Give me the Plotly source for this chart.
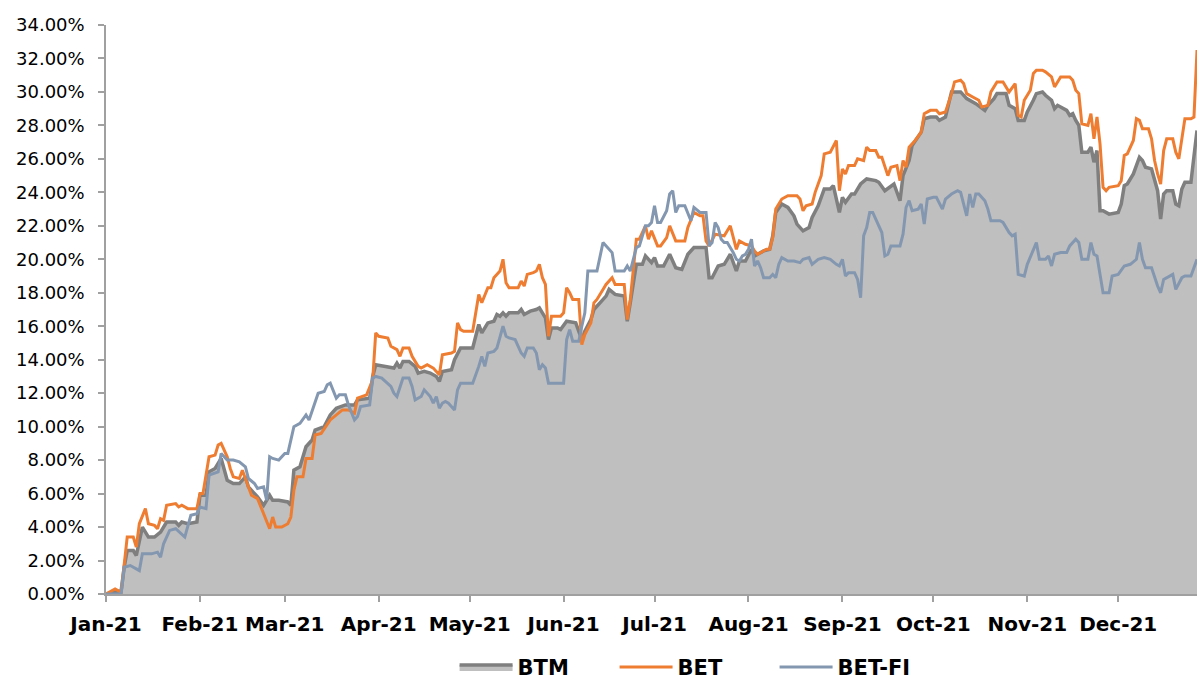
import pandas as pd
import plotly.graph_objects as go

START = pd.Timestamp("2021-01-01")

# ---- data: day offset from 1 Jan 2021, cumulative return in % ----
btm_day = [0, 5, 6, 7, 9, 10, 12, 14, 16, 18, 20, 23, 24, 25, 27, 30, 31, 33, 34, 36, 38, 40, 42, 44, 46, 47, 50, 52, 54, 55, 57, 60, 61, 62, 64, 66, 68, 69, 72, 74, 76, 79, 82, 83, 87, 88, 89, 93, 95, 96, 97, 98, 100, 102, 103, 105, 107, 109, 110, 111, 114, 115, 117, 121, 122, 123, 124, 126, 128, 129, 130, 131, 132, 133, 136, 137, 138, 140, 142, 143, 144, 145, 146, 147, 149, 150, 152, 154, 155, 157, 158, 160, 161, 163, 165, 166, 168, 171, 172, 173, 175, 177, 178, 180, 181, 182, 184, 186, 188, 190, 192, 194, 196, 198, 199, 200, 202, 204, 206, 208, 209, 211, 213, 214, 217, 219, 220, 221, 223, 225, 227, 228, 230, 231, 232, 233, 235, 237, 239, 240, 242, 243, 244, 246, 247, 249, 251, 254, 255, 257, 259, 260, 262, 263, 265, 266, 269, 270, 272, 274, 275, 277, 279, 282, 284, 285, 287, 290, 291, 293, 294, 297, 298, 300, 301, 303, 304, 306, 307, 309, 310, 312, 313, 314, 315, 317, 318, 319, 320, 321, 322, 324, 325, 326, 327, 328, 329, 331, 334, 335, 336, 337, 339, 341, 342, 343, 345, 346, 347, 348, 349, 350, 352, 353, 354, 355, 356, 358, 359, 360]
btm_val = [0.0, 0.2, 1.6, 2.6, 2.6, 2.3, 4.0, 3.4, 3.4, 3.7, 4.3, 4.3, 4.1, 4.3, 4.2, 4.3, 5.9, 5.9, 7.3, 7.5, 8.1, 6.8, 6.6, 6.6, 7.0, 6.4, 5.8, 5.3, 5.9, 5.6, 5.6, 5.5, 5.3, 7.4, 7.6, 8.8, 9.2, 9.8, 10.0, 10.7, 11.1, 11.3, 11.3, 11.6, 11.7, 13.0, 13.7, 13.6, 13.5, 13.8, 13.5, 13.9, 13.9, 13.6, 13.2, 13.3, 13.2, 13.0, 12.7, 13.3, 13.4, 14.0, 14.7, 14.7, 15.4, 16.1, 15.6, 16.2, 16.3, 16.7, 16.6, 16.8, 16.6, 16.8, 16.8, 17.0, 16.7, 16.9, 17.0, 17.1, 16.8, 16.5, 15.2, 15.9, 15.9, 15.8, 16.3, 16.2, 16.2, 15.2, 15.7, 16.4, 17.0, 17.4, 17.8, 18.2, 17.9, 17.8, 16.3, 17.4, 19.7, 19.7, 20.2, 19.8, 20.1, 19.6, 19.6, 20.3, 19.5, 19.4, 20.3, 20.7, 20.7, 20.7, 18.9, 18.9, 19.6, 19.7, 20.3, 19.3, 19.9, 19.9, 20.6, 20.2, 20.5, 20.6, 21.4, 22.8, 23.3, 23.1, 22.6, 22.1, 21.7, 21.8, 21.9, 22.5, 23.2, 24.2, 24.2, 24.4, 22.8, 23.7, 23.4, 23.9, 23.9, 24.5, 24.8, 24.7, 24.6, 24.1, 24.4, 24.5, 23.5, 25.0, 25.9, 26.8, 27.6, 28.4, 28.5, 28.5, 28.3, 28.5, 30.0, 30.0, 29.6, 29.5, 29.3, 28.9, 29.2, 29.6, 29.9, 29.9, 29.2, 29.0, 28.3, 28.3, 28.8, 29.5, 29.9, 30.0, 29.8, 29.5, 29.0, 29.2, 29.1, 28.9, 28.6, 28.7, 28.3, 28.0, 26.4, 26.4, 26.7, 25.8, 26.5, 22.9, 22.9, 22.7, 22.8, 23.3, 24.4, 24.5, 25.1, 26.1, 25.9, 25.5, 25.4, 24.7, 24.1, 22.4, 23.9, 24.1, 24.1, 23.3, 23.2, 24.2, 24.6, 24.6, 26.1, 27.7]

bet_day = [0, 3, 5, 6, 7, 9, 10, 11, 13, 14, 16, 17, 18, 19, 20, 23, 24, 25, 27, 30, 31, 32, 34, 36, 37, 38, 40, 41, 42, 44, 45, 47, 48, 50, 52, 54, 55, 56, 58, 60, 61, 62, 63, 65, 66, 68, 69, 71, 74, 76, 78, 80, 82, 83, 86, 88, 89, 90, 93, 94, 96, 97, 98, 100, 101, 103, 104, 106, 108, 109, 110, 111, 114, 115, 116, 117, 118, 121, 122, 123, 124, 126, 127, 128, 130, 131, 132, 133, 136, 137, 138, 139, 141, 142, 143, 144, 145, 146, 147, 150, 151, 152, 153, 154, 156, 157, 158, 160, 161, 162, 164, 165, 167, 168, 171, 172, 173, 175, 176, 178, 179, 180, 182, 183, 185, 186, 188, 191, 192, 194, 196, 197, 198, 199, 201, 204, 206, 207, 208, 209, 211, 213, 214, 215, 216, 218, 219, 220, 221, 223, 225, 228, 229, 230, 231, 233, 234, 236, 237, 239, 241, 242, 243, 244, 245, 247, 248, 250, 251, 252, 254, 255, 256, 257, 258, 259, 261, 262, 263, 264, 265, 267, 269, 270, 272, 274, 275, 277, 279, 280, 282, 283, 284, 286, 287, 288, 289, 291, 292, 294, 296, 298, 300, 301, 302, 303, 305, 306, 307, 309, 310, 312, 313, 314, 315, 318, 319, 320, 321, 322, 324, 325, 326, 327, 328, 329, 330, 331, 334, 335, 336, 337, 339, 340, 341, 342, 344, 345, 346, 347, 348, 349, 350, 352, 353, 354, 355, 356, 358, 359, 360]
bet_val = [0.0, 0.3, 0.1, 1.8, 3.4, 3.4, 2.8, 4.2, 5.1, 4.2, 4.1, 3.9, 4.5, 4.4, 5.3, 5.4, 5.2, 5.3, 5.1, 5.1, 6.0, 6.0, 8.2, 8.3, 8.9, 9.0, 8.2, 7.5, 7.0, 6.9, 7.4, 6.4, 5.9, 5.7, 4.8, 3.9, 4.6, 4.0, 4.0, 4.2, 4.6, 6.2, 7.0, 7.0, 8.1, 8.1, 9.5, 9.6, 10.4, 10.7, 11.0, 11.0, 10.8, 11.7, 11.9, 12.8, 15.6, 15.4, 15.3, 14.8, 14.6, 14.2, 14.7, 14.7, 14.2, 13.6, 13.5, 13.7, 13.5, 13.3, 13.1, 14.3, 14.4, 14.5, 16.2, 15.8, 15.7, 15.7, 16.8, 17.9, 17.4, 18.3, 18.3, 18.9, 19.3, 20.0, 18.6, 18.3, 18.3, 18.7, 18.4, 19.1, 19.2, 19.3, 19.7, 18.9, 18.5, 15.4, 16.6, 16.6, 16.8, 18.3, 18.0, 17.6, 17.6, 14.9, 15.5, 16.2, 17.4, 17.6, 18.2, 18.5, 18.9, 18.5, 18.5, 16.4, 17.6, 21.2, 21.2, 22.0, 21.2, 21.7, 20.8, 20.8, 21.3, 22.0, 21.1, 21.1, 21.9, 22.8, 22.6, 22.6, 21.1, 20.8, 21.5, 21.4, 22.0, 21.2, 20.6, 21.1, 20.9, 20.8, 20.5, 20.3, 20.4, 20.6, 20.6, 21.3, 23.0, 23.6, 23.8, 23.8, 23.6, 22.9, 23.2, 23.3, 24.0, 25.0, 26.3, 26.4, 27.1, 24.1, 25.4, 25.1, 25.6, 25.6, 26.0, 25.9, 26.7, 26.5, 26.5, 26.1, 26.1, 25.5, 25.0, 25.5, 25.6, 24.7, 25.9, 25.5, 26.7, 27.1, 27.6, 28.7, 28.9, 28.9, 28.7, 28.8, 29.9, 30.6, 30.7, 30.5, 29.9, 29.7, 29.6, 29.5, 29.1, 29.2, 30.0, 30.6, 30.6, 30.0, 30.5, 28.6, 28.5, 29.5, 30.1, 31.1, 31.3, 31.3, 31.2, 30.9, 30.3, 30.6, 30.9, 30.9, 30.7, 30.1, 29.9, 28.1, 28.0, 28.7, 27.2, 28.5, 26.9, 24.3, 24.1, 24.3, 24.4, 24.7, 26.2, 26.3, 27.1, 28.4, 28.3, 27.8, 27.8, 27.2, 25.9, 25.1, 24.5, 26.5, 27.2, 27.2, 26.4, 26.0, 27.1, 28.4, 28.4, 28.5, 32.5]

betfi_day = [0, 5, 6, 8, 10, 11, 12, 15, 17, 18, 19, 21, 23, 25, 26, 28, 30, 31, 33, 34, 37, 38, 40, 42, 44, 46, 47, 49, 50, 52, 53, 54, 55, 57, 59, 60, 62, 64, 66, 67, 70, 72, 73, 74, 76, 77, 79, 80, 82, 83, 84, 87, 88, 89, 91, 94, 95, 96, 98, 100, 101, 102, 104, 105, 106, 107, 108, 109, 110, 111, 112, 113, 115, 116, 117, 121, 123, 124, 125, 126, 128, 129, 131, 132, 133, 135, 137, 138, 139, 141, 142, 143, 144, 145, 146, 150, 151, 152, 153, 154, 156, 157, 158, 159, 162, 164, 165, 167, 168, 171, 172, 173, 175, 176, 178, 179, 180, 181, 182, 183, 185, 186, 187, 188, 189, 191, 193, 194, 196, 198, 199, 200, 201, 202, 203, 204, 205, 207, 208, 209, 210, 211, 212, 213, 214, 215, 216, 217, 219, 220, 221, 222, 223, 225, 227, 229, 230, 232, 233, 235, 237, 239, 241, 242, 243, 244, 245, 247, 248, 249, 250, 251, 252, 253, 254, 256, 257, 258, 259, 262, 263, 264, 265, 266, 268, 269, 270, 271, 273, 274, 276, 277, 279, 281, 282, 284, 285, 286, 287, 288, 290, 291, 292, 295, 296, 298, 299, 300, 301, 303, 304, 307, 308, 310, 311, 312, 313, 315, 317, 318, 320, 321, 322, 324, 325, 326, 327, 329, 331, 332, 334, 336, 338, 340, 341, 342, 343, 345, 347, 348, 349, 352, 353, 355, 356, 358, 360]
betfi_val = [0.0, 0.0, 1.6, 1.7, 1.5, 1.4, 2.4, 2.4, 2.5, 2.2, 3.0, 3.8, 3.9, 3.6, 3.4, 4.7, 4.8, 5.2, 5.1, 7.1, 7.3, 8.4, 8.0, 8.0, 7.9, 7.6, 6.9, 6.6, 6.3, 6.4, 5.6, 8.2, 8.1, 8.0, 8.4, 8.4, 10.0, 10.2, 10.7, 10.4, 12.0, 12.1, 12.5, 12.6, 11.7, 11.9, 11.9, 11.3, 10.4, 10.6, 11.2, 11.3, 12.9, 13.0, 12.9, 12.4, 12.0, 11.8, 12.9, 12.9, 12.4, 11.6, 11.8, 12.2, 12.0, 11.8, 11.4, 11.8, 11.1, 11.4, 11.5, 11.4, 11.0, 12.2, 12.6, 12.6, 13.6, 14.2, 13.6, 14.4, 14.5, 14.7, 16.0, 15.4, 15.3, 15.2, 14.4, 14.2, 14.7, 14.7, 14.4, 13.4, 13.7, 13.5, 12.6, 12.6, 12.6, 15.2, 15.8, 15.1, 15.1, 16.0, 16.8, 19.3, 19.3, 21.0, 20.8, 20.4, 19.3, 19.3, 19.6, 19.3, 20.7, 20.8, 22.0, 22.0, 22.2, 23.2, 22.2, 22.2, 22.9, 23.9, 24.1, 22.8, 23.2, 23.2, 22.3, 23.1, 22.8, 22.8, 20.8, 21.0, 22.2, 21.9, 21.2, 21.0, 21.0, 20.4, 20.0, 19.9, 20.2, 20.3, 20.6, 21.2, 19.6, 19.9, 19.5, 18.9, 18.9, 19.1, 18.9, 19.7, 20.1, 19.9, 19.9, 19.8, 20.0, 20.1, 19.7, 20.0, 20.1, 20.0, 19.7, 19.6, 20.0, 19.0, 19.2, 19.2, 18.8, 17.7, 21.4, 21.9, 22.8, 22.8, 22.4, 21.6, 20.2, 20.3, 20.8, 20.8, 21.5, 23.1, 23.5, 22.9, 23.0, 23.3, 22.1, 23.6, 23.7, 23.7, 23.0, 23.6, 23.9, 24.1, 24.0, 22.6, 23.9, 23.1, 23.9, 23.9, 23.5, 23.0, 22.3, 22.3, 22.2, 21.6, 21.4, 21.5, 19.1, 19.0, 19.7, 21.0, 20.0, 20.0, 20.2, 19.6, 20.3, 20.4, 20.4, 20.8, 21.2, 21.0, 20.0, 20.0, 21.0, 20.3, 20.2, 18.0, 18.0, 19.0, 19.1, 19.6, 19.7, 20.0, 21.0, 20.0, 19.5, 19.5, 18.4, 18.0, 18.8, 19.1, 18.2, 18.9, 19.0, 19.0, 20.0]

month_ticks = ["2021-01-01", "2021-02-01", "2021-03-01", "2021-04-01", "2021-05-01", "2021-06-01",
               "2021-07-01", "2021-08-01", "2021-09-01", "2021-10-01", "2021-11-01", "2021-12-01"]


def to_dates(days):
    return START + pd.to_timedelta(days, unit="D")


FONT = "DejaVu Sans"

fig = go.Figure()
fig.add_trace(go.Scatter(
    x=to_dates(btm_day), y=btm_val, name="BTM", mode="lines",
    fill="tozeroy", fillcolor="#bfbfbf",
    line=dict(color="#7f7f7f", width=3.5),
))
fig.add_trace(go.Scatter(
    x=to_dates(bet_day), y=bet_val, name="BET", mode="lines",
    line=dict(color="#ee7d31", width=3),
))
fig.add_trace(go.Scatter(
    x=to_dates(betfi_day), y=betfi_val, name="BET-FI", mode="lines",
    line=dict(color="#8497b0", width=3),
))

x_end = START + pd.Timedelta(days=max(btm_day))

fig.update_layout(
    width=1197, height=681,
    margin=dict(l=106, r=0, t=25, b=87),
    paper_bgcolor="white", plot_bgcolor="white",
    font=dict(family=FONT, color="black"),
    showlegend=True,
    legend=dict(
        orientation="h", x=0.3195, xanchor="left",
        yref="container", y=0.02, yanchor="middle",
        font=dict(family=FONT, size=21, color="black", weight="bold"),
        itemwidth=53,
        entrywidth=92, entrywidthmode="pixels",
        bgcolor="rgba(0,0,0,0)",
    ),
    xaxis=dict(
        type="date", range=[START, x_end],
        tickvals=month_ticks, tickformat="%b-%y", tickangle=0,
        ticks="outside", ticklen=6, tickcolor="#a0a0a0", tickwidth=1.5,
        showline=True, linecolor="#a0a0a0", linewidth=2,
        showgrid=False, zeroline=False,
        tickfont=dict(family=FONT, size=20, color="black", weight="bold"),
        ticklabelstandoff=5,
    ),
    yaxis=dict(
        range=[0, 34], dtick=2, tick0=0,
        tickformat=".2f", ticksuffix="%",
        ticks="outside", ticklen=6, tickcolor="#a0a0a0", tickwidth=1.5,
        showline=True, linecolor="#a0a0a0", linewidth=1.5,
        showgrid=False, zeroline=False,
        tickfont=dict(family=FONT, size=18, color="black"),
        ticklabelstandoff=10,
    ),
)

# remove the page's default body margin/scrollbars so the figure fills the window exactly
fig.write_html(
    "out.html",
    config={"displayModeBar": False},
    post_script="document.body.style.margin='0';document.body.style.overflow='hidden';",
)
